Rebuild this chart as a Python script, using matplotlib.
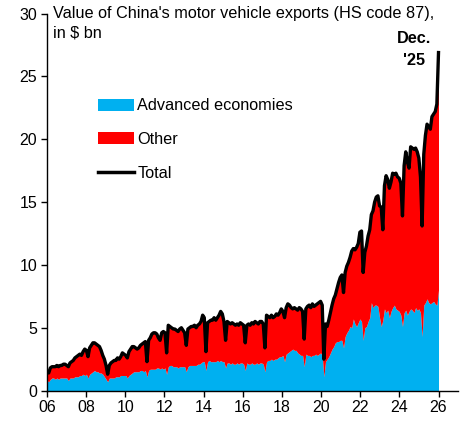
import numpy as np
import matplotlib
matplotlib.use("Agg")
import matplotlib.pyplot as plt
from matplotlib import ticker
from matplotlib.patches import Patch
from matplotlib.lines import Line2D

plt.rcParams["font.family"] = ["Liberation Sans", "DejaVu Sans"]

# monthly values, Jan 2006 .. Dec 2025, $ bn
total = [
    1.5, 1.4, 1.8, 1.9, 1.9, 1.9, 2.0, 1.9, 2.0, 2.0, 2.1, 2.1,  # 2006
    2.0, 1.9, 2.2, 2.3, 2.4, 2.6, 2.7, 2.8, 2.9, 2.8, 3.1, 3.3,  # 2007
    3.2, 2.7, 3.4, 3.6, 3.8, 3.8, 3.7, 3.6, 3.5, 3.2, 2.8, 2.5,  # 2008
    2.0, 1.3, 2.0, 2.2, 2.3, 2.4, 2.4, 2.6, 2.5, 2.7, 3.0, 2.9,  # 2009
    2.8, 2.6, 3.1, 3.3, 3.5, 3.5, 3.4, 3.3, 3.4, 3.6, 3.7, 3.8,  # 2010
    3.9, 2.3, 4.0, 4.2, 4.5, 4.6, 4.6, 4.5, 4.2, 4.0, 4.6, 4.7,  # 2011
    4.6, 3.0, 5.2, 5.1, 5.0, 4.9, 4.9, 4.8, 4.7, 4.9, 5.0, 4.8,  # 2012
    4.6, 3.6, 4.9, 5.0, 5.1, 5.1, 5.2, 5.0, 5.2, 5.3, 5.5, 6.0,  # 2013
    5.8, 3.1, 5.4, 5.5, 5.6, 5.6, 5.8, 5.6, 5.8, 6.0, 6.3, 6.1,  # 2014
    5.5, 4.0, 5.5, 5.4, 5.3, 5.4, 5.3, 5.2, 5.3, 5.2, 5.4, 5.3,  # 2015
    5.2, 3.8, 5.2, 5.3, 5.2, 5.4, 5.3, 5.5, 5.4, 5.3, 5.5, 5.5,  # 2016
    5.3, 3.4, 6.0, 5.9, 5.8, 6.0, 5.8, 5.9, 6.1, 6.0, 6.2, 6.5,  # 2017
    6.3, 5.8, 6.6, 6.9, 6.8, 6.6, 6.5, 6.6, 6.5, 6.4, 6.6, 6.5,  # 2018
    6.3, 4.1, 6.5, 6.7, 6.8, 6.6, 6.9, 6.7, 6.8, 6.9, 7.0, 7.1,  # 2019
    6.8, 2.5, 5.3, 5.1, 5.6, 6.2, 6.8, 7.3, 7.6, 8.1, 8.6, 9.0,  # 2020
    9.2, 7.8, 9.4, 9.9, 10.2, 10.6, 11.1, 11.3, 11.2, 11.4, 11.7, 12.6,  # 2021
    12.7, 9.4, 11.0, 11.5, 12.3, 12.8, 14.0, 14.3, 15.0, 15.4, 15.5, 14.7,  # 2022
    14.6, 12.8, 16.3, 17.1, 16.8, 16.1, 16.6, 17.3, 17.2, 17.3, 17.0, 16.9,  # 2023
    16.5, 13.9, 17.9, 19.0, 18.2, 17.7, 19.4, 19.3, 19.2, 19.3, 19.0, 18.5,  # 2024
    17.0, 13.1, 18.8, 20.3, 21.2, 21.0, 20.8, 21.8, 22.0, 22.2, 22.8, 26.9,  # 2025
]

advanced = [
    0.8, 0.7, 0.9, 1.0, 1.0, 0.9, 1.0, 0.9, 1.0, 1.0, 1.0, 1.0,  # 2006
    1.0, 0.8, 1.0, 1.0, 1.0, 1.1, 1.1, 1.1, 1.2, 1.2, 1.3, 1.2,  # 2007
    1.3, 1.0, 1.3, 1.4, 1.5, 1.6, 1.5, 1.5, 1.4, 1.4, 1.3, 1.1,  # 2008
    0.9, 0.7, 1.0, 1.0, 1.0, 1.0, 1.1, 1.1, 1.1, 1.2, 1.2, 1.2,  # 2009
    1.2, 1.0, 1.2, 1.3, 1.4, 1.5, 1.5, 1.5, 1.5, 1.6, 1.6, 1.5,  # 2010
    1.6, 1.1, 1.6, 1.7, 1.7, 1.7, 1.7, 1.8, 1.8, 1.7, 1.8, 1.7,  # 2011
    1.8, 1.3, 1.9, 2.0, 2.0, 1.9, 1.9, 1.9, 1.8, 1.9, 1.9, 1.9,  # 2012
    1.9, 1.5, 1.9, 2.0, 2.0, 2.0, 2.0, 2.0, 2.1, 2.1, 2.2, 2.3,  # 2013
    2.3, 1.6, 2.3, 2.4, 2.3, 2.3, 2.3, 2.3, 2.4, 2.3, 2.4, 2.3,  # 2014
    2.3, 1.8, 2.2, 2.2, 2.1, 2.2, 2.1, 2.1, 2.2, 2.1, 2.2, 2.2,  # 2015
    2.1, 1.6, 2.2, 2.1, 2.1, 2.2, 2.1, 2.1, 2.2, 2.1, 2.2, 2.2,  # 2016
    2.1, 1.5, 2.3, 2.4, 2.4, 2.5, 2.4, 2.5, 2.5, 2.6, 2.7, 2.7,  # 2017
    2.8, 2.3, 2.9, 3.0, 3.1, 3.2, 3.3, 3.2, 3.2, 3.0, 2.9, 2.8,  # 2018
    2.8, 1.9, 2.9, 2.8, 2.8, 2.7, 2.8, 2.8, 2.9, 2.8, 2.9, 3.0,  # 2019
    2.8, 1.1, 2.3, 2.5, 2.7, 3.0, 3.3, 3.5, 3.8, 3.9, 3.9, 4.0,  # 2020
    4.0, 3.4, 4.3, 4.6, 4.8, 5.1, 5.0, 5.7, 5.3, 5.1, 5.4, 5.7,  # 2021
    5.5, 4.0, 5.0, 5.1, 5.5, 5.8, 7.0, 6.6, 6.8, 6.8, 6.7, 5.8,  # 2022
    5.1, 5.6, 6.5, 6.2, 6.4, 5.8, 6.3, 6.6, 6.8, 6.5, 6.4, 6.3,  # 2023
    6.0, 5.1, 6.2, 6.4, 6.0, 6.3, 6.5, 6.4, 6.2, 6.6, 6.4, 6.5,  # 2024
    6.2, 4.3, 6.8, 7.0, 7.3, 7.0, 6.9, 7.0, 7.1, 6.9, 6.8, 8.0,  # 2025
]

year_ticks = list(range(2006, 2027, 2))

BLUE = "#00B0F0"
RED = "#FF0000"

total = np.array(total)
advanced = np.array(advanced)
x = np.linspace(2006, 2026, len(total))

fig = plt.figure(figsize=(4.66, 4.25), dpi=100)
ax = fig.add_axes([0.101, 0.081, 0.882, 0.887])

ax.fill_between(x, 0, advanced, color=BLUE, lw=0)
ax.fill_between(x, advanced, total, color=RED, lw=0)
ax.plot(x, total, color="black", lw=2.4, solid_joinstyle="round")

ax.set_xlim(2006, 2027)
ax.set_ylim(0, 30)
ax.set_xticks(year_ticks)
ax.xaxis.set_major_formatter(ticker.FuncFormatter(lambda v, p: f"{int(v) % 100:02d}"))
ax.set_yticks(range(0, 31, 5))

for s in ["top", "right"]:
    ax.spines[s].set_visible(False)
for s in ["left", "bottom"]:
    ax.spines[s].set_linewidth(1.0)
ax.tick_params(axis="both", direction="out", length=4, width=1, labelsize=11.5, pad=3)

# title in two pieces so the short second line does not collide with the Dec. label
ax.text(2006.3, 30.0, "Value of China's motor vehicle exports (HS code 87),",
        ha="left", va="center", fontsize=11.7)
ax.text(2006.3, 28.45, "in $ bn", ha="left", va="center", fontsize=11.7)
ax.text(2024.75, 28.6, "Dec.\n'25", ha="center", va="top", fontsize=11.7,
        fontweight="bold", linespacing=1.55)

handles = [
    Patch(facecolor=BLUE, edgecolor="none", label="Advanced economies"),
    Patch(facecolor=RED, edgecolor="none", label="Other"),
    Line2D([0], [0], color="black", lw=2.5, label="Total"),
]
ax.legend(handles=handles, loc="upper left", bbox_to_anchor=(0.125, 0.775),
          frameon=False, fontsize=11.7, handlelength=2.2, handleheight=0.75,
          handletextpad=0.2, labelspacing=1.15, borderpad=0, borderaxespad=0)

fig.savefig("out.png", dpi=100)
plt.close(fig)
